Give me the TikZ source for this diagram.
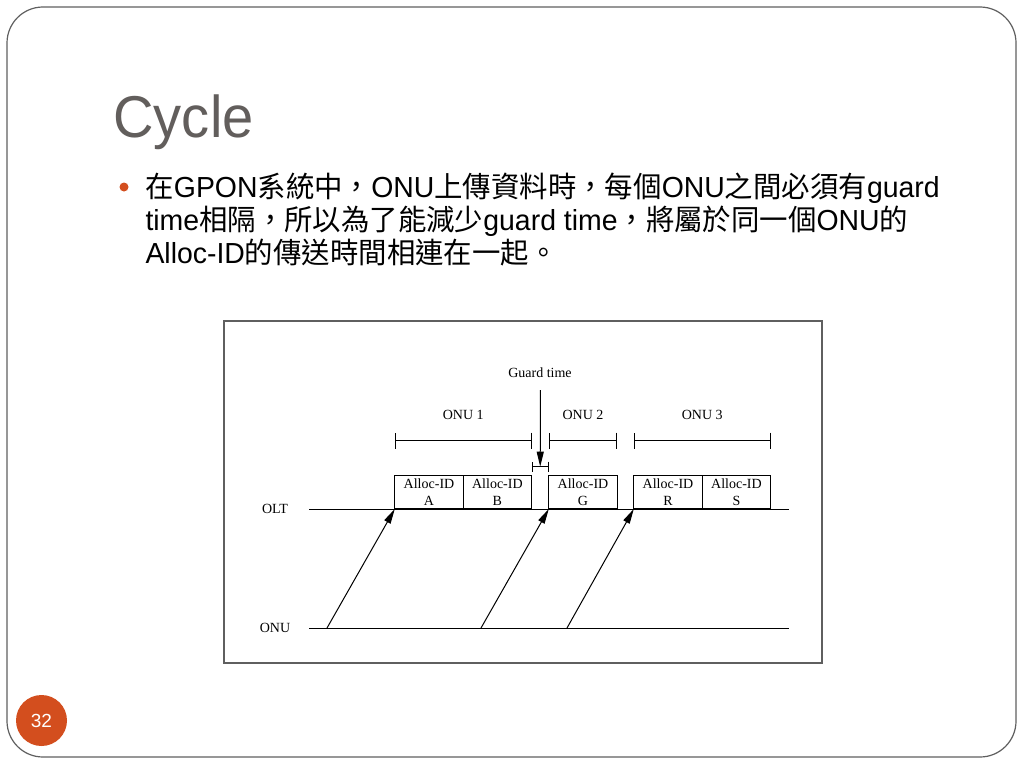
\documentclass[tikz,border=0pt]{standalone}
\usepackage{fontspec}
\setmainfont{Liberation Sans}
\newfontfamily\titlefont[FakeStretch=0.95]{Liberation Sans}
\newfontfamily\bodyfont[FakeStretch=0.98]{Liberation Sans}
\newfontfamily\bodycjk[FakeStretch=0.98]{Noto Sans CJK TC}
\newfontfamily\diagfont{Liberation Serif}
\usetikzlibrary{arrows.meta,positioning}
\definecolor{titlegray}{RGB}{98,94,92}
\definecolor{framegray}{RGB}{95,95,95}
\definecolor{slideorange}{RGB}{211,78,30}
\newcommand{\zh}[1]{{\bodycjk #1}}
\tikzset{
	arr/.style={-{Triangle[length=15pt,width=7pt]}},
	span/.style={{Bar[width=16pt]}-{Bar[width=16pt]}},
	gbar/.style={{Bar[width=10pt]}-{Bar[width=10pt]}},
	slot/.style={draw,rectangle,align=center,inner sep=0pt,outer sep=0pt,minimum width=68.4pt,minimum height=33.3pt,font=\diagfont\fontsize{14}{17.5}\selectfont},
	lbl/.style={inner sep=0pt,font=\diagfont\fontsize{14}{16}\selectfont},
	bodyline/.style={anchor=base west,inner sep=0pt,font=\bodyfont\fontsize{29}{33}\selectfont}
}
\begin{document}
\begin{tikzpicture}[x=1pt,y=-1pt,line width=1pt]
			\useasboundingbox (0,0) rectangle (1024,768);
			\draw[framegray,line width=1.2pt,rounded corners=36pt] (7,7) rectangle (1016,757);
			
			\node[anchor=base west,inner sep=0pt,text=titlegray,font=\titlefont\fontsize{59}{59}\selectfont] (title) at (113,137) {Cycle};
			\node[circle,fill=slideorange,minimum size=9pt,inner sep=0pt] (dot) at (124,187) {};
			\node[bodyline] (line1) at (145,197) {\zh{在}GPON\zh{系統中，}ONU\zh{上傳資料時，每個}ONU\zh{之間必須有}guard};
			\node[bodyline] (line2) at (145,230) {time\zh{相隔，所以為了能減少}guard time\zh{，將屬於同一個}ONU\zh{的}};
			\node[bodyline] (line3) at (145,263) {Alloc-ID\zh{的傳送時間相連在一起。}};
			
			\node[circle,fill=slideorange,minimum size=51pt,inner sep=0pt,text=white,font=\fontsize{19}{19}\selectfont] (pgno) at (41.5,720.5) {32};
			
			\node[draw=framegray,line width=1.5pt,minimum width=598pt,minimum height=342pt,inner sep=0pt] (panel) at (523,492) {};
			
			\node[slot] (A) at (429,492.3) {Alloc-ID\\A};
			\node[slot,right=0pt of A] (B) {Alloc-ID\\B};
			\node[slot] (G) at (583,492.3) {Alloc-ID\\G};
			\node[slot] (R) at (668,492.3) {Alloc-ID\\R};
			\node[slot,right=0pt of R] (S) {Alloc-ID\\S};
			
			\node[lbl] (olt) at (275,509) {OLT};
			\node[lbl] (onu) at (275,628) {ONU};
			\coordinate (olt-w) at (309,509);
			\coordinate (olt-e) at (789,509);
			\coordinate (onu-w) at (309,628);
			\coordinate (onu-e) at (789,628);
			\draw (olt-w) -- (olt-e);
			\draw (onu-w) -- (onu-e);
			
			\coordinate (u1) at (327,628);
			\coordinate (u2) at (481,628);
			\coordinate (u3) at (567,628);
			\draw[arr] (u1) -- (A.south west);
			\draw[arr] (u2) -- (G.south west);
			\draw[arr] (u3) -- (R.south west);
			
			\draw[span] ([yshift=35pt]A.north west) -- ([yshift=35pt]B.north east) node[midway,above=21pt,lbl] (onu1) {ONU 1};
			\draw[span] ([yshift=35pt]G.north west) -- ([yshift=35pt]G.north east) node[midway,above=21pt,lbl] (onu2) {ONU 2};
			\draw[span] ([yshift=35pt]R.north west) -- ([yshift=35pt]S.north east) node[midway,above=21pt,lbl] (onu3) {ONU 3};
			
			\draw[gbar] ([yshift=9pt]B.north east) -- ([yshift=9pt]G.north west) coordinate[midway] (gmid);
			\node[lbl] (gt) at (540,373) {Guard time};
			\coordinate (gtop) at (540.4,390);
			\draw[arr] (gtop) -- (gmid);
\end{tikzpicture}
\end{document}
